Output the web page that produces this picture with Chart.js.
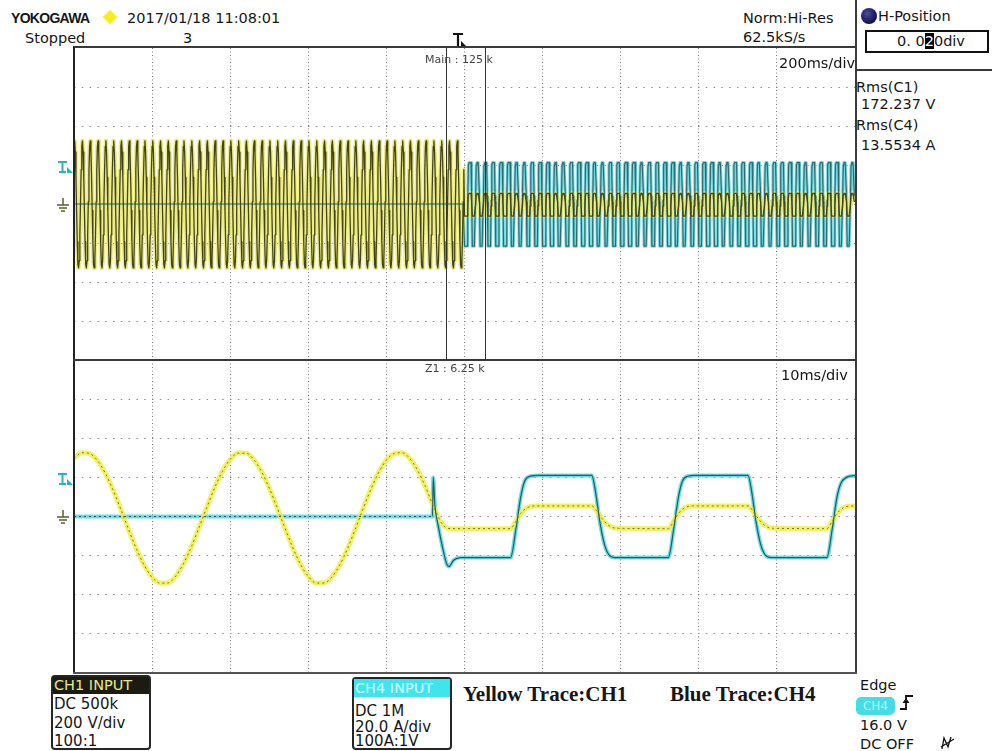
<!DOCTYPE html>
<html>
<head>
<meta charset="utf-8">
<title>YOKOGAWA capture 2017/01/18 11:08:01</title>
<script src="https://cdn.jsdelivr.net/npm/chart.js@4.4.1/dist/chart.umd.min.js"></script>
<style>
  html, body { margin: 0; padding: 0; background: #fff; }
  #screen { position: relative; width: 992px; height: 751px; overflow: hidden;
            font-family: "DejaVu Sans", sans-serif; color: #161616; }
  .t { position: absolute; white-space: nowrap; line-height: 1; font-size: 14.5px; }
  .line { position: absolute; background: #3a3a3a; }
  canvas { position: absolute; }
  .box { position: absolute; border: 2px solid #262626; border-radius: 4px; background: #fff; }
  .box .hd { height: 17px; line-height: 17px; font-size: 14.5px; padding-left: 1px; }
  .box .ln { position: absolute; left: 1px; font-size: 15px; line-height: 1; white-space: nowrap; }
  .serif { font-family: "Liberation Serif", serif; font-weight: bold; font-size: 21px; }
</style>
</head>
<body>
<div id="screen">
  <!-- header -->
  <div class="t" style="left:11px;top:11px;font-family:'Liberation Sans';font-weight:bold;font-size:14px;letter-spacing:-0.7px;">YOKOGAWA</div>
  <div style="position:absolute;left:105px;top:12px;width:10px;height:10px;background:#f7ee1c;transform:rotate(45deg);box-shadow:0 0 2px #f4ef90;"></div>
  <div class="t" style="left:127px;top:11px;">2017/01/18 11:08:01</div>
  <div class="t" style="left:25px;top:31px;">Stopped</div>
  <div class="t" style="left:183px;top:31px;">3</div>
  <div class="t" style="left:743px;top:11px;">Norm:Hi-Res</div>
  <div class="t" style="left:743px;top:30px;">62.5kS/s</div>

  <!-- H-Position box -->
  <div class="line" style="left:855px;top:0;width:2px;height:48px;"></div>
  <div class="line" style="left:855px;top:69px;width:137px;height:2px;"></div>
  <div style="position:absolute;left:861px;top:8px;width:16px;height:16px;border-radius:50%;background:radial-gradient(circle at 40% 35%, #4a4a9a, #101050 70%);"></div>
  <div class="t" style="left:878px;top:9px;">H-Position</div>
  <div style="position:absolute;left:865px;top:30px;width:120px;height:19px;border:2px solid #111;"></div>
  <div class="t" style="left:897px;top:34px;">0. 0<span style="background:#000;color:#fff;">2</span>0div</div>

  <div class="t" style="left:856px;top:80px;">Rms(C1)</div>
  <div class="t" style="left:861px;top:97px;">172.237 V</div>
  <div class="t" style="left:856px;top:118px;">Rms(C4)</div>
  <div class="t" style="left:861px;top:138px;">13.5534 A</div>

  <!-- the two scope panels -->
  <canvas id="mainChart" width="781" height="312" style="left:74px;top:48px;"></canvas>
  <canvas id="zoomChart" width="781" height="313" style="left:74px;top:360px;"></canvas>

  <!-- frame -->
  <div class="line" style="left:73px;top:46px;width:784px;height:2px;"></div>
  <div class="line" style="left:73px;top:47px;width:2px;height:626px;background:#222;"></div>
  <div class="line" style="left:855px;top:47px;width:2px;height:626px;"></div>
  <div class="line" style="left:73px;top:359px;width:784px;height:2px;"></div>
  <div class="line" style="left:73px;top:672px;width:784px;height:2px;background:#555;"></div>

  <!-- zoom window on main panel -->
  <div style="position:absolute;left:446px;top:48px;width:38px;height:311px;border:1.5px solid #333;border-top:none;"></div>
  <svg style="position:absolute;left:452px;top:32px;" width="16" height="16">
    <path d="M1,2 H11 M6,2 V14" stroke="#111" stroke-width="2.2" fill="none"/>
    <path d="M9,9 L14,14 L9,14 Z" fill="#111"/>
  </svg>

  <div class="t" style="left:425px;top:54px;font-size:11px;color:#444;">Main : 125 k</div>
  <div class="t" style="left:779px;top:56px;">200ms/div</div>
  <div class="t" style="left:425px;top:363px;font-size:11px;color:#444;">Z1 : 6.25 k</div>
  <div class="t" style="left:781px;top:368px;">10ms/div</div>

  <!-- trigger level / ground markers -->
  <svg style="position:absolute;left:57px;top:160px;" width="17" height="14">
    <path d="M1,2 H10 M5.5,2 V12 M2,12 H9" stroke="#26b3c2" stroke-width="2" fill="none"/>
    <path d="M10,7 L16,13 L10,13 Z" fill="#26b3c2"/>
  </svg>
  <svg style="position:absolute;left:57px;top:472px;" width="17" height="14">
    <path d="M1,2 H10 M5.5,2 V12 M2,12 H9" stroke="#26b3c2" stroke-width="2" fill="none"/>
    <path d="M10,7 L16,13 L10,13 Z" fill="#26b3c2"/>
  </svg>
  <svg style="position:absolute;left:56px;top:198px;" width="14" height="16">
    <path d="M7,0 V7 M1,7 H13 M3,10 H11 M5,13 H9" stroke="#5e5e2c" stroke-width="1.5" fill="none"/>
  </svg>
  <svg style="position:absolute;left:56px;top:510px;" width="14" height="16">
    <path d="M7,0 V7 M1,7 H13 M3,10 H11 M5,13 H9" stroke="#5e5e2c" stroke-width="1.5" fill="none"/>
  </svg>

  <!-- channel boxes -->
  <div class="box" style="left:51px;top:675px;width:96px;height:71px;">
    <div class="hd" style="background:#1b1b0f;color:#e8e88c;">CH1 INPUT</div>
    <div class="ln" style="top:20px;">DC 500k</div>
    <div class="ln" style="top:39px;">200 V/div</div>
    <div class="ln" style="top:57px;">100:1</div>
  </div>
  <div class="box" style="left:352px;top:677px;width:96px;height:69px;">
    <div class="hd" style="background:#3fe4ec;color:#d6ffff;height:18px;line-height:18px;">CH4 INPUT</div>
    <div class="ln" style="top:25px;">DC 1M</div>
    <div class="ln" style="top:41px;">20.0 A/div</div>
    <div class="ln" style="top:55px;">100A:1V</div>
  </div>

  <div class="t serif" style="left:463px;top:684px;">Yellow Trace:CH1</div>
  <div class="t serif" style="left:670px;top:684px;">Blue Trace:CH4</div>

  <!-- trigger settings -->
  <div class="t" style="left:860px;top:678px;">Edge</div>
  <div style="position:absolute;left:856px;top:697px;width:39px;height:18px;border-radius:5px;background:#45dce6;color:rgba(255,255,255,0.6);font-size:12px;line-height:18px;text-align:center;">CH4</div>
  <svg style="position:absolute;left:899px;top:693px;" width="16" height="18">
    <path d="M1,16 H7 V3 H14" stroke="#111" stroke-width="1.8" fill="none"/>
    <path d="M3.5,10 L7,5 L10.5,10 Z" fill="#111"/>
  </svg>
  <div class="t" style="left:860px;top:718px;">16.0 V</div>
  <div class="t" style="left:860px;top:737px;">DC OFF</div>
  <svg style="position:absolute;left:939px;top:735px;" width="18" height="16">
    <path d="M3,14 L5,3 L9,12 L12,2 M2,12 L15,4" stroke="#111" stroke-width="1.3" fill="none"/>
  </svg>
</div>

<script>
// ---- main panel (200 ms/div, 0..2000 ms), values in divisions ----
const mainTimeMax = 2000;
const mainTriggerMs = 1000;
const mainCycleMs = 20;              // 50 Hz mains
const mainCyclesBefore = 50;
const mainCyclesAfter = 50;
// one period of each trace as seen on the screen (12 samples per period)
const ch1CycleBefore = [1.48, 1.62, 1.33, 0.68, -0.17, -0.97, -1.55, -1.64, -1.45, -0.79, 0.06, 0.88];
const ch1CycleAfter = [-0.31, -0.31, -0.31, -0.31, -0.31, -0.05, 0.24, 0.27, 0.27, 0.27, 0.27, 0.05];
const ch4CycleBefore = [0, 0, 0, 0, 0, 0, 0, 0, 0, 0, 0, 0];
const ch4CycleAfter = [-1.08, -1.08, -1.08, -1.08, -1.08, 0.1, 1.0, 1.06, 1.06, 1.06, 1.06, 0.2];

// ---- zoom panel Z1 (10 ms/div, 0..100 ms), values in divisions ----
const zoomTimeMax = 100;
const ch1ZoomTime = [0, 1, 2, 3, 4, 5, 6, 7, 8, 9, 10, 11, 12, 13, 14, 15, 16, 17, 18, 19,
  20, 21, 22, 23, 24, 25, 26, 27, 28, 29, 30, 31, 32, 33, 34, 35, 36, 37, 38, 39,
  40, 41, 42, 43, 44, 45, 46, 46.5, 47.0, 47.6, 48.3, 55.9, 56.5, 57.2, 58.0, 59.0,
  66.3, 66.9, 67.6, 68.4, 69.4, 76.1, 76.7, 77.4, 78.2, 79.2, 86.3, 86.9, 87.6, 88.4, 89.4,
  96.4, 97.0, 97.7, 98.5, 99.5, 100];
const ch1ZoomValue = [1.48, 1.63, 1.61, 1.43, 1.11, 0.68, 0.18, -0.34, -0.83, -1.25, -1.55,
  -1.70, -1.70, -1.53, -1.21, -0.79, -0.29, 0.23, 0.73, 1.15, 1.46, 1.62, 1.62, 1.46, 1.15,
  0.73, 0.23, -0.29, -0.79, -1.22, -1.53, -1.70, -1.70, -1.55, -1.25, -0.83, -0.33, 0.19,
  0.69, 1.12, 1.44, 1.61, 1.63, 1.48, 1.18, 0.76, 0.27, 0.05, -0.15, -0.28, -0.31, -0.31,
  -0.15, 0.08, 0.22, 0.27, 0.27, 0.15, -0.05, -0.22, -0.30, -0.31, -0.15, 0.08, 0.22, 0.27,
  0.27, 0.15, -0.05, -0.22, -0.30, -0.31, -0.15, 0.08, 0.22, 0.27, 0.27];
const ch4ZoomTime = [0, 45.9, 46.0, 46.2, 46.6, 47.2, 47.7, 48.0, 48.6, 49.5,
  55.9, 56.6, 57.2, 57.7, 58.4, 59.5, 66.3, 66.8, 67.3, 67.9, 68.5, 69.3,
  76.1, 76.8, 77.4, 77.9, 78.6, 79.5, 86.3, 86.8, 87.3, 87.9, 88.5, 89.3,
  96.4, 97.1, 97.7, 98.2, 98.9, 100];
const ch4ZoomValue = [0, 0, 1.0, 0.3, -0.2, -0.8, -1.2, -1.28, -1.12, -1.05,
  -1.05, -0.3, 0.5, 0.9, 1.03, 1.05, 1.05, 0.6, -0.1, -0.7, -0.98, -1.05,
  -1.05, -0.3, 0.5, 0.9, 1.03, 1.05, 1.05, 0.6, -0.1, -0.7, -0.98, -1.05,
  -1.05, -0.3, 0.5, 0.85, 1.0, 1.05];

const zip = (ts, vs) => ts.map((t, i) => ({ x: t, y: vs[i] }));

function tile(cycle, count, t0) {
  const pts = [];
  const dt = mainCycleMs / cycle.length;
  for (let c = 0; c < count; c++) {
    cycle.forEach((v, i) => pts.push({ x: t0 + c * mainCycleMs + i * dt, y: v }));
  }
  return pts;
}

function trace(points, color, width, order, extra) {
  return Object.assign({
    data: points, borderColor: color, borderWidth: width, order,
    pointRadius: 0, fill: false, tension: 0, borderJoinStyle: 'round'
  }, extra || {});
}

function scopeChart(id, xMax, datasets) {
  const edge = (ctx, min, max) =>
    (ctx.tick.value === min || ctx.tick.value === max) ? 'rgba(0,0,0,0)' : null;
  return new Chart(document.getElementById(id), {
    type: 'line',
    data: { datasets },
    options: {
      responsive: false, animation: false, events: [],
      layout: { padding: 0 },
      plugins: { legend: { display: false }, tooltip: { enabled: false } },
      scales: {
        x: {
          type: 'linear', min: 0, max: xMax,
          ticks: { display: false, stepSize: xMax / 10 },
          grid: { drawTicks: false, lineWidth: 1,
                  color: ctx => edge(ctx, 0, xMax) || '#7c7c7c' },
          border: { display: false, dash: [1, 2.5] }
        },
        y: {
          type: 'linear', min: -4, max: 4,
          ticks: { display: false, stepSize: 1 },
          grid: { drawTicks: false, lineWidth: 1,
                  color: ctx => edge(ctx, -4, 4) || '#8c8c8c' },
          border: { display: false, dash: [1.5, 6.3] }
        }
      }
    }
  });
}

const mainCh1 = tile(ch1CycleBefore, mainCyclesBefore, 0)
  .concat(tile(ch1CycleAfter, mainCyclesAfter, mainTriggerMs));
const mainCh4 = tile(ch4CycleBefore, mainCyclesBefore, 0)
  .concat(tile(ch4CycleAfter, mainCyclesAfter, mainTriggerMs));

scopeChart('mainChart', mainTimeMax, [
  trace(mainCh1, '#44441a', 1.3, 0),
  trace(mainCh4, '#2b6d73', 1.2, 1),
  trace(mainCh1, 'rgba(234,234,110,0.85)', 4.5, 2),
  trace(mainCh4, 'rgba(95,208,218,0.85)', 3.2, 3)
]);

const zoomCh1 = zip(ch1ZoomTime, ch1ZoomValue);
const zoomCh4 = zip(ch4ZoomTime, ch4ZoomValue);
const smooth = { cubicInterpolationMode: 'monotone' };
// the idle (flat) part of CH4 shows a dotted core, the switching part a solid one
const ch4Core = Object.assign({
  segment: { borderDash: ctx => ctx.p1.parsed.x <= 45.9 ? [2, 3] : [] }
}, smooth);

scopeChart('zoomChart', zoomTimeMax, [
  trace(zoomCh1, '#77772c', 1, 0, Object.assign({ borderDash: [2, 3] }, smooth)),
  trace(zoomCh4, '#1e5d64', 1.2, 1, ch4Core),
  trace(zoomCh1, 'rgba(238,238,70,0.85)', 5, 2, smooth),
  trace(zoomCh4, 'rgba(86,214,224,0.85)', 4, 3, smooth)
]);
</script>
</body>
</html>
